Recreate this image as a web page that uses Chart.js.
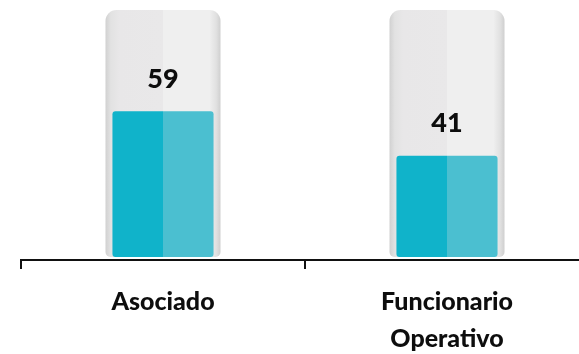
<!DOCTYPE html>
<html>
<head>
<meta charset="utf-8">
<script src="https://cdn.jsdelivr.net/npm/chart.js@4.4.1/dist/chart.umd.min.js"></script>
<style>
  html, body { margin: 0; padding: 0; background: #fff; overflow: hidden; }
  #wrap { width: 589px; height: 354px; }
</style>
</head>
<body>
<div id="wrap"><canvas id="chart"></canvas></div>
<script>
const categories = [['Asociado'], ['Funcionario', 'Operativo']];
const values = [59, 41];
const fullScale = [100, 100];

const tealLeft = '#10b3ca';
const tealRight = '#4bbfd0';

// split colour: darker left half, lighter right half
function tealFill(ctx) {
  const chart = ctx.chart;
  if (!chart.chartArea) return tealLeft;
  const cx = chart.scales.x.getPixelForValue(ctx.dataIndex);
  const g = chart.ctx.createLinearGradient(cx - 1, 0, cx + 1, 0);
  g.addColorStop(0, tealLeft);
  g.addColorStop(0.5, tealLeft);
  g.addColorStop(0.5, tealRight);
  g.addColorStop(1, tealRight);
  return g;
}

function glassFill(ctx) {
  const chart = ctx.chart;
  if (!chart.chartArea) return '#e6e6e6';
  const cx = chart.scales.x.getPixelForValue(ctx.dataIndex);
  const half = 58;
  const g = chart.ctx.createLinearGradient(cx - half, 0, cx + half, 0);
  g.addColorStop(0, '#cfcfcf');
  g.addColorStop(0.05, '#e2e2e2');
  g.addColorStop(0.12, '#e8e7e8');
  g.addColorStop(0.5, '#e9e8e9');
  g.addColorStop(0.5, '#efefef');
  g.addColorStop(0.9, '#efefef');
  g.addColorStop(0.96, '#e0e0e0');
  g.addColorStop(1, '#cdcdcd');
  return g;
}

const valueLabels = {
  id: 'valueLabels',
  afterDatasetsDraw(chart) {
    const ctx = chart.ctx;
    const meta = chart.getDatasetMeta(0);
    ctx.save();
    ctx.font = '900 27px Lato';
    ctx.fillStyle = '#0d0d0d';
    ctx.textAlign = 'center';
    ctx.textBaseline = 'middle';
    meta.data.forEach((bar, i) => {
      ctx.fillText(String(values[i]), bar.x, bar.y - 32);
    });
    ctx.restore();
  }
};

new Chart(document.getElementById('chart'), {
  type: 'bar',
  data: {
    labels: categories,
    datasets: [
      {
        data: values,
        backgroundColor: tealFill,
        borderRadius: 3,
        borderSkipped: false,
        grouped: false,
        categoryPercentage: 1,
        barPercentage: 0.356,
        order: 0
      },
      {
        data: fullScale,
        backgroundColor: glassFill,
        borderRadius: { topLeft: 11, topRight: 11, bottomLeft: 5, bottomRight: 5 },
        borderSkipped: false,
        grouped: false,
        categoryPercentage: 1,
        barPercentage: 0.405,
        order: 1
      }
    ]
  },
  options: {
    responsive: true,
    maintainAspectRatio: false,
    animation: false,
    layout: { padding: { left: 21, top: 10, right: 0, bottom: 0 } },
    plugins: {
      legend: { display: false },
      tooltip: { enabled: false }
    },
    scales: {
      x: {
        offset: true,
        grid: {
          offset: true,
          drawOnChartArea: false,
          color: '#111',
          lineWidth: 2,
          tickLength: 9
        },
        border: { color: '#111', width: 2 },
        ticks: {
          color: '#0d0d0d',
          padding: 14,
          font: { family: 'Lato', size: 25, weight: '900', lineHeight: 1.48 }
        },
        afterFit(scale) { scale.height = 94; }
      },
      y: {
        display: false,
        min: -1.2,
        max: 100
      }
    }
  },
  plugins: [valueLabels]
});
</script>
</body>
</html>
